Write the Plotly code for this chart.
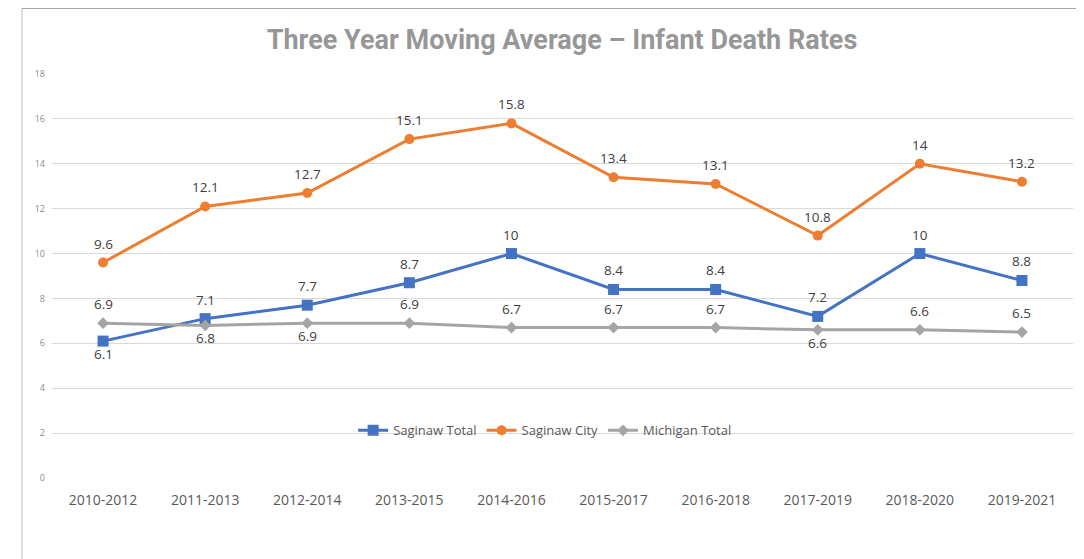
import plotly.graph_objects as go

categories = ["2010-2012", "2011-2013", "2012-2014", "2013-2015", "2014-2016",
              "2015-2017", "2016-2018", "2017-2019", "2018-2020", "2019-2021"]
saginaw_total = [6.1, 7.1, 7.7, 8.7, 10, 8.4, 8.4, 7.2, 10, 8.8]
saginaw_city = [9.6, 12.1, 12.7, 15.1, 15.8, 13.4, 13.1, 10.8, 14, 13.2]
michigan_total = [6.9, 6.8, 6.9, 6.9, 6.7, 6.7, 6.7, 6.6, 6.6, 6.5]

# label placement: True = above the point, False = below
blue_above = [False] + [True] * 9
orange_above = [True] * 10
gray_above = [True, False, False, True, True, True, True, False, True, True]

FONT = "Open Sans, sans-serif"
label_font = dict(family=FONT, size=13.5, color="#404040")

W, H = 1076, 551
L, R, T, B = 44, 11, 66, 81
PW, PH = W - L - R, H - T - B

fig = go.Figure()
series = [
    ("Saginaw Total", saginaw_total, blue_above, "#4472C4", "square", 11),
    ("Saginaw City", saginaw_city, orange_above, "#ED7D31", "circle", 10),
    ("Michigan Total", michigan_total, gray_above, "#A5A5A5", "diamond", 9),
]
for name, vals, above, color, sym, msize in series:
    fig.add_trace(go.Scatter(
        x=categories, y=vals, name=name, mode="lines+markers",
        line=dict(color=color, width=3),
        marker=dict(symbol=sym, size=msize, color=color),
    ))
    for c, v, a in zip(categories, vals, above):
        fig.add_annotation(x=c, y=v, text=str(v), showarrow=False,
                           xanchor="center", yanchor="middle",
                           yshift=19 if a else -13, font=label_font)

fig.update_layout(
    width=W, height=H,
    margin=dict(l=L, r=R, t=T, b=B),
    paper_bgcolor="white", plot_bgcolor="white",
    title=dict(text="<b>Three Year Moving Average – Infant Death Rates</b>",
               x=(554 - L) / PW, xanchor="center", xref="paper", y=1 - 32 / H, yanchor="middle",
               font=dict(family="Roboto, sans-serif", size=27, color="#979797")),
    xaxis=dict(range=[-0.5, len(categories) - 0.5],
               showgrid=False, showline=False, zeroline=False, ticks="",
               tickfont=dict(family=FONT, size=14, color="#595959"),
               ticklabelstandoff=12),
    yaxis=dict(range=[0, 18], dtick=2, showgrid=True, gridcolor="#D9D9D9", gridwidth=1,
               zeroline=False, showline=False, ticks="",
               tickfont=dict(family=FONT, size=9, color="#8C8C8C"),
               ticklabelstandoff=6),
    legend=dict(orientation="h", x=0.483, xanchor="center", y=0.118, yanchor="middle",
                bgcolor="rgba(0,0,0,0)",
                font=dict(family=FONT, size=13, color="#595959"),
                itemwidth=30, tracegroupgap=0),
    showlegend=True,
)

# frame lines (top and left edges of the original picture)
fx = (14 - L) / PW
fig.add_shape(type="line", xref="paper", yref="paper", x0=fx, x1=1.2,
              y0=1 + T / PH, y1=1 + T / PH, line=dict(color="#A6A6A6", width=2))
fig.add_shape(type="line", xref="paper", yref="paper", x0=fx, x1=fx,
              y0=-B / PH, y1=1 + T / PH, line=dict(color="#BFBFBF", width=1))

fig.write_html("out.html")
